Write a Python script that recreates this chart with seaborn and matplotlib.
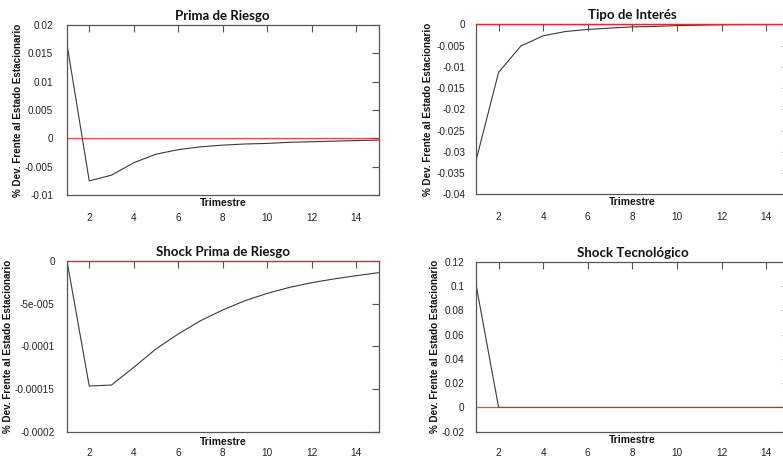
import numpy as np
import pandas as pd
import matplotlib
matplotlib.use("Agg")
import matplotlib.pyplot as plt
import seaborn as sns

# Impulse responses over 15 quarters
trimestres = list(range(1, 16))

prima_riesgo = [0.0166, -0.0075, -0.0065, -0.0043, -0.0028, -0.0020, -0.0015, -0.0012,
                -0.0010, -0.0009, -0.0007, -0.0006, -0.0005, -0.0004, -0.0003]
tipo_interes = [-0.0318, -0.0113, -0.0051, -0.0027, -0.0017, -0.0012, -0.0009, -0.0006,
                -0.0005, -0.0003, -0.0002, -0.0001, -0.00005, -0.00003, -0.00002]
shock_prima = [0.0, -1.465e-4, -1.453e-4, -1.246e-4, -1.03e-4, -8.55e-5, -7.0e-5, -5.74e-5,
               -4.65e-5, -3.79e-5, -3.09e-5, -2.54e-5, -2.10e-5, -1.72e-5, -1.37e-5]
shock_tecno = [0.1, 0.0, 0.0, 0.0, 0.0, 0.0, 0.0, 0.0, 0.0, 0.0, 0.0, 0.0, 0.0, 0.0, 0.0]

titulos = ["Prima de Riesgo", "Tipo de Interés", "Shock Prima de Riesgo", "Shock Tecnológico"]

xticks = [2, 4, 6, 8, 10, 12, 14]

yticks_pr = [0.02, 0.015, 0.01, 0.005, 0, -0.005, -0.01]
ylabels_pr = ["0.02", "0.015", "0.01", "0.005", "0", "-0.005", "-0.01"]
yticks_ti = [0, -0.005, -0.01, -0.015, -0.02, -0.025, -0.03, -0.035, -0.04]
ylabels_ti = ["0", "-0.005", "-0.01", "-0.015", "-0.02", "-0.025", "-0.03", "-0.035", "-0.04"]
yticks_sp = [0, -5e-5, -1e-4, -1.5e-4, -2e-4]
ylabels_sp = ["0", "-5e-005", "-0.0001", "-0.00015", "-0.0002"]
yticks_st = [0.12, 0.1, 0.08, 0.06, 0.04, 0.02, 0, -0.02]
ylabels_st = ["0.12", "0.1", "0.08", "0.06", "0.04", "0.02", "0", "-0.02"]

series = [prima_riesgo, tipo_interes, shock_prima, shock_tecno]
yticks_all = [yticks_pr, yticks_ti, yticks_sp, yticks_st]
ylabels_all = [ylabels_pr, ylabels_ti, ylabels_sp, ylabels_st]
ylims = [(-0.01, 0.02), (-0.04, 0.0), (-0.0002, 0.0), (-0.02, 0.12)]

sns.set_theme(style="white")
plt.rcParams["font.family"] = ["Liberation Sans", "DejaVu Sans"]

W, H = 783, 457
fig = plt.figure(figsize=(W / 100, H / 100), dpi=100)
fig.patch.set_facecolor("white")

# panel boxes in pixels: left, right, top, bottom
boxes = [
    (67, 378.5, 25, 195),
    (476.3, 788.5, 24.3, 194.3),
    (67, 378.5, 261, 431.7),
    (476.3, 788.5, 261.7, 431.7),
]
ylabel_x = [-0.157, -0.154, -0.190, -0.131]
ypads = [10, 8, 8.8, 8.6]
xpads = [13, 13, 12, 12]
xlabel_y = [-0.018, -0.018, -0.03, -0.02]

for i in range(4):
    l, r, t, b = boxes[i]
    ax = fig.add_axes([l / W, (H - b) / H, (r - l) / W, (b - t) / H])
    ax.set_facecolor("white")
    df = pd.DataFrame({"Trimestre": trimestres, "valor": series[i]})
    sns.lineplot(data=df, x="Trimestre", y="valor", ax=ax, color="#3a3a3a",
                 linewidth=0.8, zorder=2)
    ax.axhline(0, color="#ff2020", linewidth=0.9, zorder=4, clip_on=False, alpha=0.85)

    ax.set_xlim(1, 15)
    ax.set_ylim(*ylims[i])
    ax.set_xticks(xticks)
    ax.set_xticklabels([str(v) for v in xticks])
    ax.set_yticks(yticks_all[i])
    ax.set_yticklabels(ylabels_all[i])
    ax.tick_params(axis="both", direction="in", top=True, right=True, length=5,
                   width=0.8, color="#555555", labelsize=7.2, labelcolor="#222222")
    ax.tick_params(axis="x", pad=xpads[i])
    ax.tick_params(axis="y", pad=ypads[i])
    for s in ax.spines.values():
        s.set_color("#555555")
        s.set_linewidth(0.9)
        s.set_zorder(3)

    ax.set_xlabel("")
    ax.set_ylabel("")
    ax.text(0.5, xlabel_y[i], "Trimestre", transform=ax.transAxes, ha="center", va="top",
            fontsize=7.4, fontweight="bold", color="#111111")
    ax.text(ylabel_x[i], 0.5, "% Dev. Frente al Estado Estacionario", transform=ax.transAxes,
            rotation=90, ha="center", va="center", fontsize=7.1, fontweight="bold",
            color="#111111")
    ax.set_title(titulos[i], fontsize=9.5, fontweight="bold", family=["Lato", "DejaVu Sans"],
                 pad=3.5, color="#111111")

fig.savefig("out.png", dpi=100, facecolor="white")
